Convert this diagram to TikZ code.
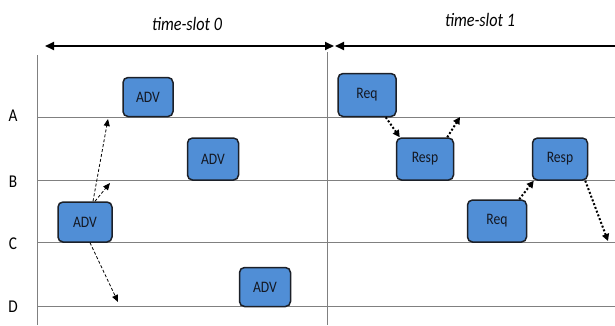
\documentclass[tikz,border=0pt]{standalone}
\usepackage{fontspec}
\setmainfont{Carlito}[FakeStretch=0.85]
\usetikzlibrary{arrows.meta}
\definecolor{boxblue}{RGB}{80,142,214}
\definecolor{boxedge}{RGB}{28,32,40}
\definecolor{gridgray}{RGB}{128,128,128}
\definecolor{txtdark}{RGB}{20,24,34}
\tikzset{
  msg/.style={draw=boxedge, line width=1.5pt, fill=boxblue, rounded corners=5pt,
    minimum width=52pt, minimum height=40pt, inner sep=0pt, text=txtdark,
    font=\fontsize{16}{18}\selectfont},
  chan/.style={draw=gridgray, line width=1pt},
  slotarrow/.style={line width=2pt, black},
  lbl/.style={font=\fontsize{18}{20}\selectfont},
  slotlbl/.style={font=\fontsize{19}{21}\selectfont\itshape},
  adv/.style={densely dashed, line width=0.8pt, -{Triangle[length=7pt,width=6pt]}},
  rr/.style={dotted, line width=2pt, -{Triangle[length=7pt,width=7pt]}}
}
\begin{document}
\begin{tikzpicture}[x=1pt, y=-1pt]
\useasboundingbox (0,0) rectangle (615,325);
% channel lines
\draw[chan] (37,55) -- (37,325);
\draw[chan] (327,52) -- (327,325);
\foreach \y in {117,180,242,306} \draw[chan] (37,\y) -- (615,\y);
% channel labels
\node[lbl] (la) at (13,116) {A};
\node[lbl] (lb) at (13,182) {B};
\node[lbl] (lc) at (13,244) {C};
\node[lbl] (ld) at (13,307) {D};
% time slots
\coordinate (s0l) at (45,46);
\coordinate (s0r) at (334,46);
\coordinate (s1l) at (335,46);
\coordinate (s1r) at (620,46);
\draw[slotarrow, {Triangle[length=9pt,width=8pt]}-{Triangle[length=9pt,width=8pt]}] (s0l) -- (s0r);
\draw[slotarrow, {Triangle[length=9pt,width=8pt]}-] (s1l) -- (s1r);
\node[slotlbl] (t0) at (187,24) {time-slot 0};
\node[slotlbl] (t1) at (480,20) {time-slot 1};
% advertising packets
\node[msg, minimum width=50pt, minimum height=39pt] (advA) at (148,97) {ADV};
\node[msg, minimum width=51pt, minimum height=42pt] (advB) at (213,159) {ADV};
\node[msg, minimum width=54pt, minimum height=40pt] (advC) at (85,222) {ADV};
\node[msg, minimum width=51pt, minimum height=39pt] (advD) at (265,287) {ADV};
% request / response packets
\node[msg, minimum width=58pt, minimum height=43pt] (req1) at (367,95) {Req};
\node[msg, minimum width=57pt, minimum height=42pt] (resp1) at (425,159) {Resp};
\node[msg, minimum width=59pt, minimum height=42pt] (req2) at (497,221) {Req};
\node[msg, minimum width=55pt, minimum height=42pt] (resp2) at (560,159) {Resp};
% free ends
\coordinate (eA) at (108,119);
\coordinate (eB) at (110,183);
\coordinate (eD) at (118,302);
\coordinate (e1) at (460,117);
\coordinate (e2) at (608,241);
% advertising broadcast
\draw[adv] ([xshift=8pt]advC.north) -- (eA);
\draw[adv] ([xshift=10pt]advC.north) -- (eB);
\draw[adv] ([xshift=5pt]advC.south) -- (eD);
% request / response exchanges
\draw[rr] ([xshift=-11pt]req1.south east) -- ([xshift=4pt]resp1.north west);
\draw[rr] ([xshift=-7pt]resp1.north east) -- (e1);
\draw[rr] ([xshift=-8pt]req2.north east) -- ([xshift=2pt]resp2.south west);
\draw[rr] ([xshift=-3pt]resp2.south east) -- (e2);
\end{tikzpicture}
\end{document}
